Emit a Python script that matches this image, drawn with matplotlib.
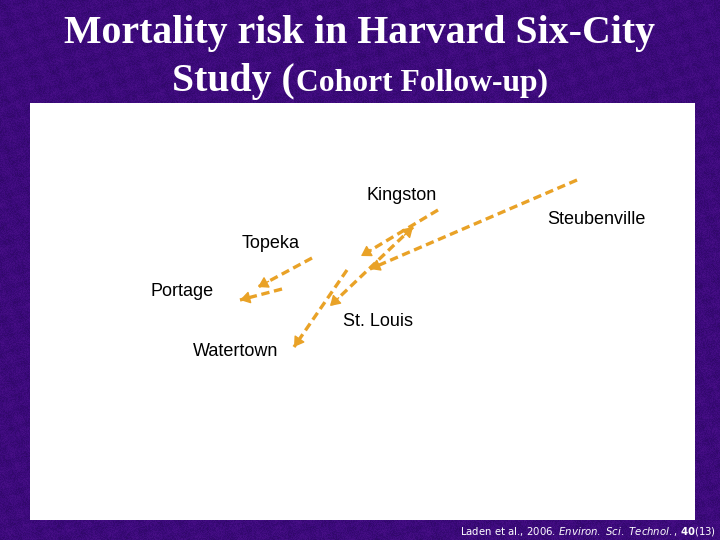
import numpy as np
import matplotlib
matplotlib.use('Agg')
import matplotlib.pyplot as plt

# city labels and where they sit on the panel
cities = ['Kingston', 'Steubenville', 'Topeka', 'Portage', 'St. Louis', 'Watertown']
label_x = [402, 596, 271, 182, 378, 236]
label_y = [195, 219, 243, 291, 321, 351]

# arrows (panel units run top to bottom)
start_x = [438, 577, 312, 282, 413, 347]
start_y = [210, 180, 258, 289, 227, 270]
end_x = [361, 370, 258, 240, 330, 294]
end_y = [256, 269, 287, 300, 306, 347]

orange = '#e9a227'
purple = '#3c0a7c'

fig = plt.figure(figsize=(7.2, 5.4), dpi=100, facecolor=purple)

# mottled backdrop, just a texture
bg = fig.add_axes([0, 0, 1, 1])
yy, xx = np.mgrid[0:540, 0:720]
grain = np.sin(xx * 12.9898 + yy * 78.233) * 43758.5453
grain = grain - np.floor(grain) - 0.5
tex = grain + 0.25 * np.sin(xx * 0.21 + yy * 0.13) * np.sin(xx * 0.09 - yy * 0.27)
cmap = matplotlib.colors.LinearSegmentedColormap.from_list('bg', ['#300868', '#3c0a7c', '#4a1088'])
bg.imshow(tex, cmap=cmap, aspect='auto', interpolation='nearest')
bg.axis('off')

# white panel
ax = fig.add_axes([30 / 720, 20 / 540, 665 / 720, 417 / 540], facecolor='white')
ax.set_xlim(30, 695)
ax.set_ylim(520, 103)
ax.set_xticks([])
ax.set_yticks([])
for s in ax.spines.values():
    s.set_visible(False)


# solid head on a short stub so the dashes don't break its outline
def draw_head(x0, y0, x1, y1):
    frac = 12 / np.hypot(x1 - x0, y1 - y0)
    ax.annotate('', xy=(x1, y1), xytext=(x1 - (x1 - x0) * frac, y1 - (y1 - y0) * frac),
                arrowprops=dict(arrowstyle='-|>,head_length=0.4,head_width=0.25', mutation_scale=15,
                                color=orange, lw=1, shrinkA=0, shrinkB=0))


for i in range(len(start_x)):
    ax.plot([start_x[i], end_x[i]], [start_y[i], end_y[i]], color=orange, lw=2.4,
            linestyle=(0, (2.5, 1.4)), dash_capstyle='butt')
    draw_head(start_x[i], start_y[i], end_x[i], end_y[i])
    # St. Louis has a head at both ends
    if cities[i] == 'St. Louis':
        draw_head(end_x[i], end_y[i], start_x[i], start_y[i])

for name, x, y in zip(cities, label_x, label_y):
    ax.text(x, y + 1, name, ha='center', va='center', fontsize=13, family='Liberation Sans', color='black')

# title
serif = dict(family='Liberation Serif', fontweight='bold', color='white', va='baseline')
fig.text(360 / 720, 1 - 43 / 540, 'Mortality risk in Harvard Six-City', ha='center', fontsize=28.6, **serif)
fig.text(172 / 720, 1 - 91 / 540, 'Study (', ha='left', fontsize=28.6, **serif)
fig.text(296 / 720, 1 - 91 / 540, 'Cohort Follow-up)', ha='left', fontsize=22.8, **serif)

# citation
fig.text(460 / 720, 1 - 534 / 540,
         r'Laden et al., 2006. $\mathit{Environ.\ Sci.\ Technol.}$, $\mathbf{40}$(13)',
         ha='left', va='baseline', fontsize=7.3, color='white', family='DejaVu Sans')

fig.savefig('out.png', dpi=100, facecolor=fig.get_facecolor())
